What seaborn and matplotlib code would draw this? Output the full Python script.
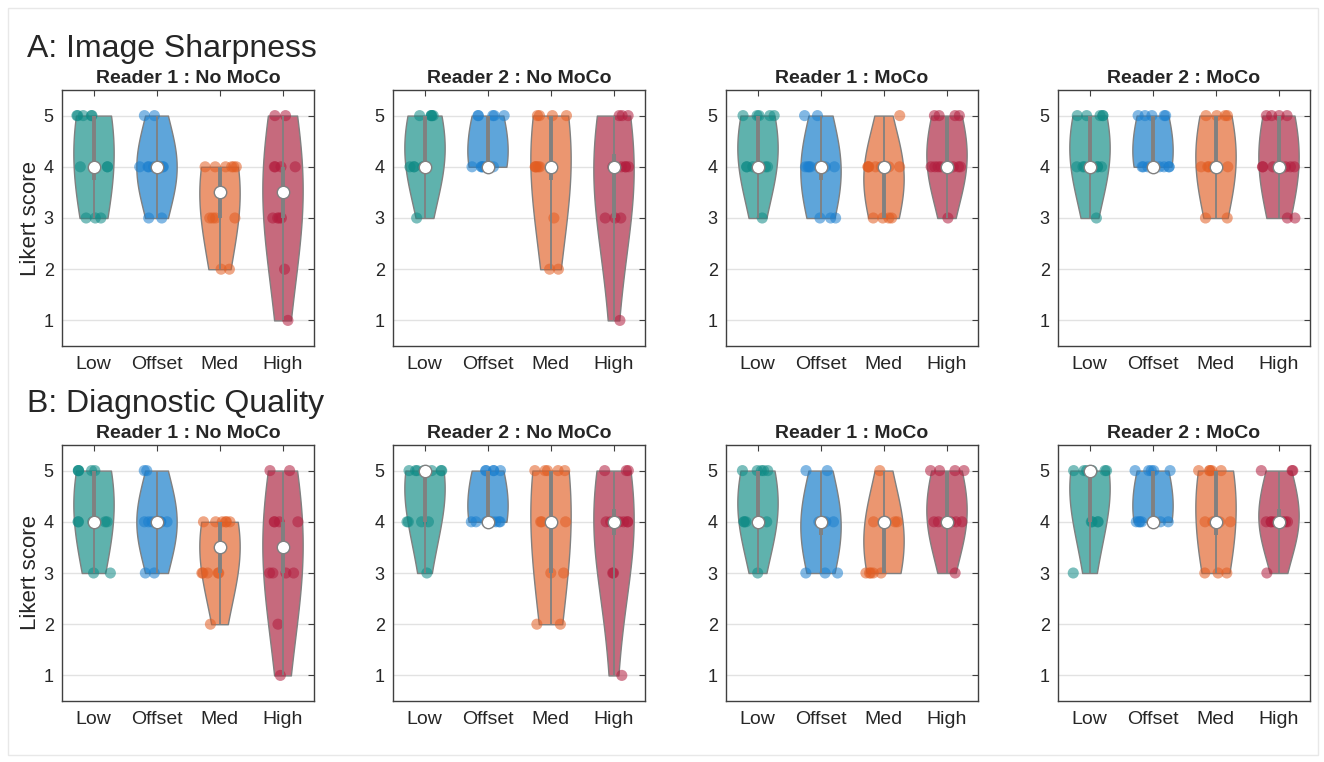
import numpy as np
import pandas as pd
import matplotlib
matplotlib.use("Agg")
import matplotlib.pyplot as plt
import seaborn as sns
from matplotlib.patches import Rectangle

# categories and panel labels
categories = ["Low", "Offset", "Med", "High"]
scores = [1, 2, 3, 4, 5]
panel_titles = ["Reader 1 : No MoCo", "Reader 2 : No MoCo", "Reader 1 : MoCo", "Reader 2 : MoCo"]
row_titles = ["A: Image Sharpness", "B: Diagnostic Quality"]

# number of ratings with score 1..5, one row per category (Low, Offset, Med, High)
sharp_r1_nomoco = [[0, 0, 3, 4, 5], [0, 0, 2, 8, 2], [0, 2, 4, 6, 0], [1, 1, 4, 4, 2]]
sharp_r2_nomoco = [[0, 0, 1, 6, 5], [0, 0, 0, 7, 5], [0, 2, 1, 5, 4], [1, 0, 3, 5, 3]]
sharp_r1_moco = [[0, 0, 1, 6, 5], [0, 0, 3, 7, 2], [0, 0, 4, 7, 1], [0, 0, 1, 7, 4]]
sharp_r2_moco = [[0, 0, 1, 6, 5], [0, 0, 0, 7, 5], [0, 0, 2, 6, 4], [0, 0, 2, 6, 4]]
diag_r1_nomoco = [[0, 0, 2, 5, 5], [0, 0, 2, 8, 2], [0, 1, 5, 6, 0], [1, 1, 4, 4, 2]]
diag_r2_nomoco = [[0, 0, 1, 4, 7], [0, 0, 0, 7, 5], [0, 2, 2, 3, 5], [1, 0, 2, 6, 3]]
diag_r1_moco = [[0, 0, 1, 6, 5], [0, 0, 3, 7, 2], [0, 0, 5, 6, 1], [0, 0, 1, 7, 4]]
diag_r2_moco = [[0, 0, 1, 4, 7], [0, 0, 0, 7, 5], [0, 0, 3, 4, 5], [0, 0, 1, 8, 3]]

panels = [
    [sharp_r1_nomoco, sharp_r2_nomoco, sharp_r1_moco, sharp_r2_moco],
    [diag_r1_nomoco, diag_r2_nomoco, diag_r1_moco, diag_r2_moco],
]

violin_colors = ["#5fb2ad", "#5ea5da", "#eb9670", "#c66a7d"]
point_colors = ["#0e8a85", "#1b7fcf", "#e25d22", "#b21d3e"]
line_gray = "#808080"


def to_frame(counts):
    rows = []
    for cat, cnt in zip(categories, counts):
        for s, c in zip(scores, cnt):
            rows += [(cat, s)] * c
    return pd.DataFrame(rows, columns=["level", "score"])


sns.set_style("white")
plt.rcParams["font.family"] = ["Liberation Sans", "DejaVu Sans"]
np.random.seed(3)

W, H = 1324, 762
fig = plt.figure(figsize=(W / 100, H / 100), dpi=100)
fig.patches.append(Rectangle((8 / W, 7 / H), 1310 / W, 747 / H, transform=fig.transFigure,
                             fill=False, edgecolor="#e8e8e8", lw=1))

lefts = [62, 393, 726, 1058]
tops = [90, 445]
ax_w, ax_h = 252, 256

for r in range(2):
    fig.text(27 / W, 1 - (tops[r] - 33) / H, row_titles[r], fontsize=23, va="baseline", ha="left")
    for c in range(4):
        ax = fig.add_axes([lefts[c] / W, 1 - (tops[r] + ax_h) / H, ax_w / W, ax_h / H])
        df = to_frame(panels[r][c])
        ax.grid(axis="y", color="#e2e2e2", lw=1)
        ax.set_axisbelow(True)
        sns.violinplot(data=df, x="level", y="score", hue="level", order=categories,
                       hue_order=categories, palette=violin_colors, saturation=1,
                       cut=0, inner=None, density_norm="width", width=0.64, bw_adjust=2.1,
                       linewidth=1, linecolor=line_gray, legend=False, ax=ax)
        sns.stripplot(data=df, x="level", y="score", hue="level", order=categories,
                      hue_order=categories, palette=point_colors, jitter=0.28, size=8,
                      alpha=0.55, linewidth=0, legend=False, ax=ax, zorder=3)
        for i, cat in enumerate(categories):
            vals = df.loc[df["level"] == cat, "score"].to_numpy()
            q1, med, q3 = np.percentile(vals, [25, 50, 75])
            ax.vlines(i, vals.min(), vals.max(), color=line_gray, lw=1.3, zorder=4)
            ax.vlines(i, q1, q3, color=line_gray, lw=2.8, zorder=4)
            ax.scatter([i], [med], s=80, color="white", edgecolors=line_gray, lw=1, zorder=5)
        ax.set_xlim(-0.5, 3.5)
        ax.set_ylim(0.5, 5.5)
        ax.set_yticks(scores)
        ax.set_xlabel("")
        ax.set_ylabel("Likert score" if c == 0 else "", fontsize=16, color="#262626", labelpad=2)
        ax.set_title(panel_titles[c], fontsize=14, fontweight="bold", pad=5)
        ax.tick_params(direction="in", top=True, right=True, length=4, width=0.8,
                       color="#404040", labelcolor="#262626")
        ax.tick_params(axis="x", labelsize=14, pad=7)
        ax.tick_params(axis="y", labelsize=13, pad=6)
        for sp in ax.spines.values():
            sp.set_color("#404040")
            sp.set_linewidth(1)

fig.savefig("out.png", dpi=100, facecolor="white")
